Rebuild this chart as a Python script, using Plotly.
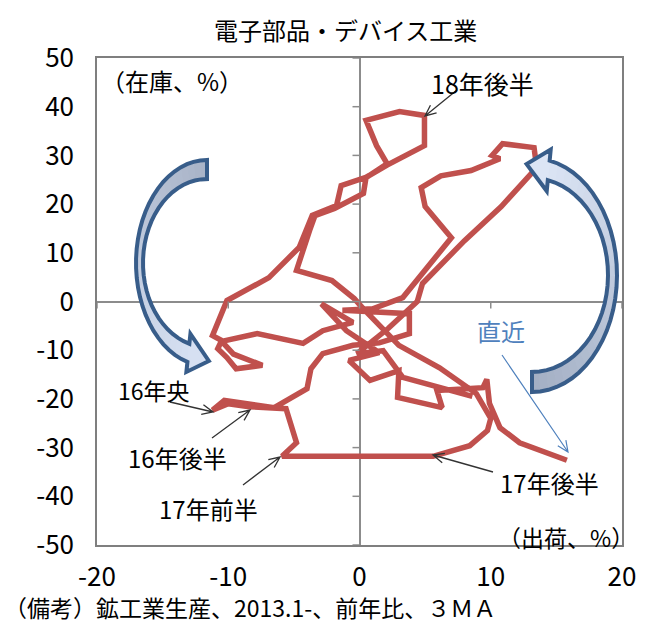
import math
import plotly.graph_objects as go

# ---------------- data (3MA, YoY %) ----------------
shipments_yoy = [
    8.6, 3.3,
    1.8, -0.2, 2.2, 4.4, 4.8, 8.0, 10.8, 13.5, 13.3, 10.9, 10.1, 10.7, 8.5, 6.2, 4.7, 5.0,
    7.0, 5.0, 3.3, 1.0, -1.3, 3.8, 3.8, 1.5,
    -0.5, -2.8, -3.7, -4.0, -5.3, -6.5, -10.3, -11.2, -10.0, -8.4, -5.6, -4.8, -5.9, -1.0,
    2.5, 5.6, 8.4, 9.75, 10.0, 8.9, 6.1, 3.0, 0.3,
    -0.4, -2.1, -4.8, -3.8, -3.4, -1.9, 0.3, 0.5, 2.1, 4.95, 4.95, 3.05, 0.5, 1.3, 2.1, 0.6,
    -1.4, -1.75, -3.6, -4.6, -6.9, -10.1, -11.0, -11.2, -10.5, -10.8, -10.1, -9.4, -7.4,
    -9.6, -10.5, -7.8, -4.3, -2.8, -0.5,
    -2.9, -1.0, 1.5, -0.8, 0.8, 3.0, 2.9, 6.3, 5.9, 9.4, 9.7, 9.9,
    10.7, 12.2, 15.8,
]
inventory_yoy = [
    -19.5, -15.6,
    -10.1, -10.7, -5.5, 0.0, 3.7, 12.5, 19.5, 27.5, 31.6, 32.4, 30.0, 29.3, 26.9, 25.8, 23.4, 19.5,
    13.1, 6.5, 0.8, -1.5, -1.8, -2.5, -6.6, -8.5,
    -9.0, -10.7, -13.8, -17.9, -20.0, -21.8, -20.3, -22.3, -21.0, -21.6, -22.0, -29.0, -31.8, -31.9,
    -32.0, -31.8, -29.6, -26.5, -24.0, -18.9, -13.6, -9.0, -1.5,
    0.6, 4.3, 6.4, 14.6, 17.6, 19.1, 22.2, 25.5, 28.0, 32.0, 38.2, 39.0, 37.2, 32.0, 28.3, 25.6,
    23.8, 19.7, 17.7, 11.1, 4.9, 0.2, -5.3, -7.0, -8.0, -9.7, -11.5, -13.8, -13.1,
    -10.8, -8.2, -6.6, -8.6, -6.0, -4.3,
    -0.5, -6.0, -10.5, -12.1, -16.2, -14.2, -19.7, -21.8, -18.3, -17.7, -16.0, -20.9,
    -25.9, -29.0, -32.6,
]

x_tickvals = [-20, -10, 0, 10, 20]
x_ticktext = ["-20", "-10", "0", "10", "20"]
y_tickvals = [-50, -40, -30, -20, -10, 0, 10, 20, 30, 40, 50]
y_ticktext = ["-50", "-40", "-30", "-20", "-10", "0", "10", "20", "30", "40", "50"]

title_text = "電子部品・デバイス工業"
y_unit_text = "（在庫、%）"
x_unit_text = "（出荷、%）"
note_text = "（備考）鉱工業生産、2013.1-、前年比、３ＭＡ"

# ---------------- layout geometry helpers ----------------
W, H = 649, 632
L, R, T, B = 97, 622, 58, 545
XMIN, XMAX, YMIN, YMAX = -20, 20, -50, 50
FONT = "Noto Sans CJK JP"


def dx(px):
    return XMIN + (px - L) / (R - L) * (XMAX - XMIN)


def dy(py):
    return YMAX - (py - T) / (B - T) * (YMAX - YMIN)


def xp(px):
    return (px - L) / (R - L)


def yp(py):
    return (B - py) / (B - T)


def path_from_px(points, close=False):
    s = "M " + " L ".join(f"{dx(a):.4f},{dy(b):.4f}" for a, b in points)
    return s + (" Z" if close else "")


def line_arrow(tail, tip, color, width=1.3, hl=12, ang=24):
    ux, uy = tip[0] - tail[0], tip[1] - tail[1]
    n = math.hypot(ux, uy)
    ux, uy = ux / n, uy / n
    a = math.radians(ang)
    pts = []
    for s in (1, -1):
        ca, sa = math.cos(s * a), math.sin(s * a)
        vx, vy = -ux, -uy
        rx = vx * ca - vy * sa
        ry = vx * sa + vy * ca
        pts.append((tip[0] + rx * hl, tip[1] + ry * hl))
    p = (f"M {dx(tail[0]):.4f},{dy(tail[1]):.4f} L {dx(tip[0]):.4f},{dy(tip[1]):.4f} "
         f"M {dx(pts[0][0]):.4f},{dy(pts[0][1]):.4f} L {dx(tip[0]):.4f},{dy(tip[1]):.4f} "
         f"L {dx(pts[1][0]):.4f},{dy(pts[1][1]):.4f}")
    return dict(type="path", xref="x", yref="y", path=p,
                line=dict(color=color, width=width), layer="above")


def mix(c1, c2, f):
    a = [int(c1[i:i + 2], 16) for i in (1, 3, 5)]
    b = [int(c2[i:i + 2], 16) for i in (1, 3, 5)]
    return "#" + "".join(f"{round(a[k] + (b[k] - a[k]) * f):02x}" for k in range(3))


def block_arrow(cx, cy, ro, ri, t0, t1, ext, hlen, c0, c1, outline, n=30):
    shapes = []
    ts = [math.radians(t0 + (t1 - t0) * k / n) for k in range(n + 1)]
    outer = [(cx + ro[0] * math.cos(t), cy - ro[1] * math.sin(t)) for t in ts]
    inner = [(cx + ri[0] * math.cos(t), cy - ri[1] * math.sin(t)) for t in ts]
    te = ts[-1]
    O, I = outer[-1], inner[-1]
    M = ((O[0] + I[0]) / 2, (O[1] + I[1]) / 2)
    sgn = 1 if t1 > t0 else -1
    rx, ry = (ro[0] + ri[0]) / 2, (ro[1] + ri[1]) / 2
    tx, ty = -rx * math.sin(te) * sgn, -ry * math.cos(te) * sgn
    tn = math.hypot(tx, ty)
    tx, ty = tx / tn, ty / tn
    nx, ny = O[0] - I[0], O[1] - I[1]
    nn = math.hypot(nx, ny)
    nx, ny = nx / nn, ny / nn
    cA = (O[0] + ext * nx, O[1] + ext * ny)
    cB = (I[0] - ext * nx, I[1] - ext * ny)
    tip = (M[0] + hlen * tx, M[1] + hlen * ty)
    for k in range(n):
        col = mix(c0, c1, k / n)
        quad = [outer[k], outer[k + 1], inner[k + 1], inner[k]]
        shapes.append(dict(type="path", xref="x", yref="y", path=path_from_px(quad, True),
                           fillcolor=col, line=dict(color=col, width=1), layer="above"))
    shapes.append(dict(type="path", xref="x", yref="y", path=path_from_px([cA, tip, cB], True),
                       fillcolor=c1, line=dict(color=c1, width=1), layer="above"))
    outline_pts = outer + [cA, tip, cB] + inner[::-1]
    shapes.append(dict(type="path", xref="x", yref="y", path=path_from_px(outline_pts, True),
                       fillcolor="rgba(0,0,0,0)", line=dict(color=outline, width=4), layer="above"))
    return shapes


# ---------------- figure ----------------
fig = go.Figure()
fig.add_trace(go.Scatter(
    x=shipments_yoy, y=inventory_yoy, mode="lines",
    line=dict(color="#C0504D", width=5.5),
    hoverinfo="skip", showlegend=False,
))

shapes = []
for v in y_tickvals:
    shapes.append(dict(type="line", xref="x", yref="y", xsizemode="pixel", xanchor=0,
                       x0=-7, x1=0, y0=v, y1=v, line=dict(color="#8c8c8c", width=1.5)))
for v in x_tickvals:
    shapes.append(dict(type="line", xref="x", yref="y", ysizemode="pixel", yanchor=0,
                       y0=0, y1=-7, x0=v, x1=v, line=dict(color="#8c8c8c", width=1.5)))

shapes += block_arrow(207, 263, (71, 103), (64, 84), 90, 254, 10, 22,
                      "#a9b4c8", "#d6e0f2", "#385D8A")
shapes += block_arrow(532, 275, (85, 117), (76, 97), -90, 78, 11, 23,
                      "#a3afc4", "#dce5f5", "#385D8A")

shapes.append(line_arrow((457, 90), (425, 116), "#333333"))
shapes.append(line_arrow((170, 402), (213, 412), "#333333"))
shapes.append(line_arrow((212, 438), (250, 410), "#333333"))
shapes.append(line_arrow((243, 485), (280, 457), "#333333"))
shapes.append(line_arrow((493, 472), (433, 455), "#333333"))
shapes.append(line_arrow((502, 355), (568, 452), "#4F81BD", width=1.2))

annotations = []


def txt(text, px, py, size=21, color="#000000", xanchor="center"):
    annotations.append(dict(text=text, x=xp(px), y=yp(py), xref="paper", yref="paper",
                            showarrow=False, xanchor=xanchor, yanchor="middle",
                            font=dict(family=FONT, size=size, color=color)))


txt(title_text, 345, 29, size=24)
txt(y_unit_text, 172, 80, size=24)
txt(x_unit_text, 566, 537, size=23)
txt("18年後半", 482, 83, size=25)
txt("直近", 501, 330, size=24, color="#4F81BD")
txt("16年央", 154, 390, size=23)
txt("16年後半", 177, 457, size=24)
txt("17年前半", 208, 508, size=24)
txt("17年後半", 549, 482, size=24)
txt(note_text, 2, 607, size=23, xanchor="left")

axis_common = dict(showgrid=False, zeroline=True, zerolinecolor="#8c8c8c", zerolinewidth=1.5,
                   showline=True, mirror=True, linecolor="#7f7f7f", linewidth=1.5,
                   ticks="", tickfont=dict(family=FONT, size=26, color="#000000"))

fig.update_layout(
    width=W, height=H,
    margin=dict(l=L, r=W - R, t=T, b=H - B, pad=0),
    paper_bgcolor="white", plot_bgcolor="white",
    xaxis=dict(range=[XMIN, XMAX], tickvals=x_tickvals, ticktext=x_ticktext,
               ticklabelstandoff=8, **axis_common),
    yaxis=dict(range=[YMIN, YMAX], tickvals=y_tickvals, ticktext=y_ticktext,
               ticklabelstandoff=16, **axis_common),
    shapes=shapes,
    annotations=annotations,
    showlegend=False,
)

fig.write_html("out.html")
